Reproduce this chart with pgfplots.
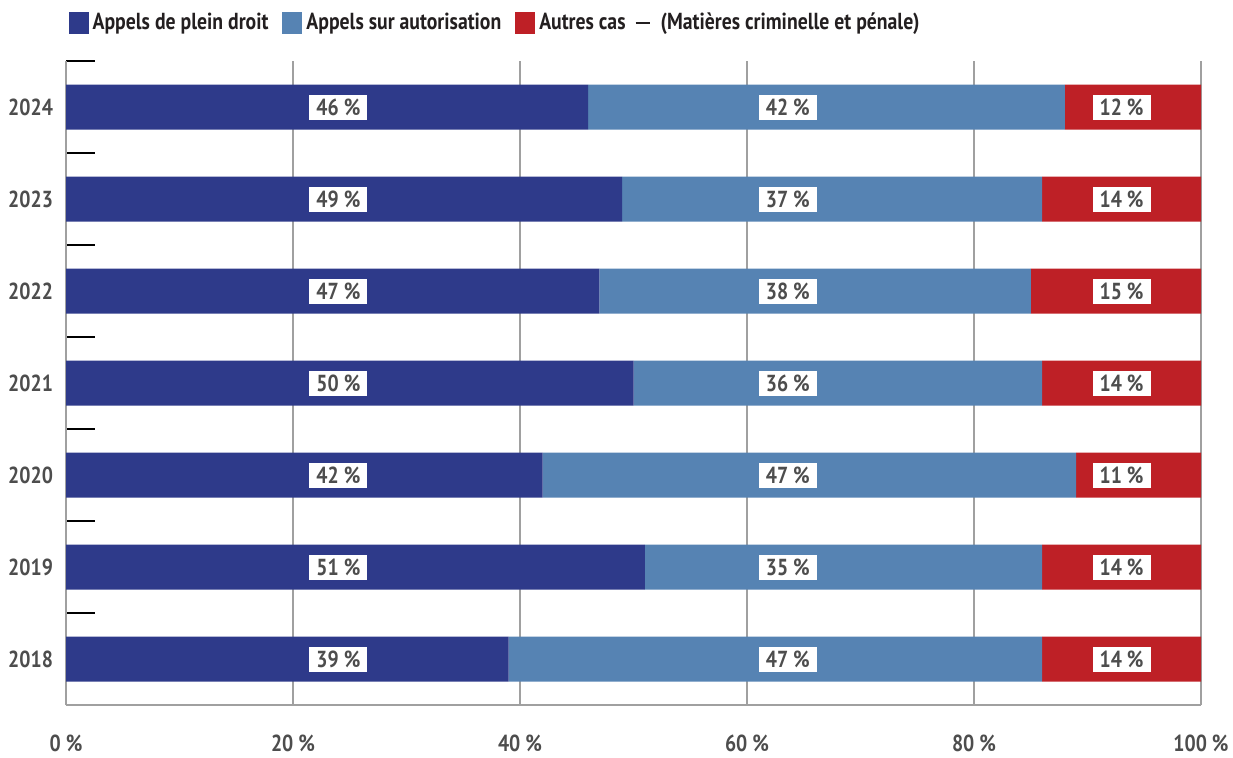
\documentclass[border=0pt]{standalone}
\usepackage{pgfplots}
\pgfplotsset{compat=1.18}
\usepackage{fontspec}
\setmainfont{PT Sans}[FakeStretch=0.85]
\definecolor{dblue}{HTML}{2E3A8A}
\definecolor{lblue}{HTML}{5683B3}
\definecolor{cred}{HTML}{BE2026}
\definecolor{txt}{HTML}{4D4D4D}
\definecolor{legtxt}{HTML}{231F20}
\definecolor{ax}{HTML}{A0A0A0}

\begin{document}
\begin{tikzpicture}[font=\fontsize{11.6}{13}\selectfont\bfseries]
\path[use as bounding box] (-33pt,-26pt) rectangle (583.5pt,352.5pt);
\begin{axis}[
    scale only axis, width=567.5pt, height=322pt,
    xbar stacked, bar width=22.5pt,
    xmin=0, xmax=100, ymin=-0.5, ymax=6.5,
    axis x line*=bottom, axis y line*=left,
    axis line style={ax, line width=0.7pt},
    /pgf/number format/assume math mode=true,
    xtick={0,20,...,100},
    xticklabel={\pgfmathprintnumber{\tick} \%},
    xmajorgrids, grid style={ax, line width=0.7pt},
    major tick length=0pt,
    xticklabel style={yshift=-11.5pt, text=txt},
    ytick={0,1,2,3,4,5,6},
    yticklabels={2018,2019,2020,2021,2022,2023,2024},
    yticklabel style={text=txt, xshift=-3pt},
    minor ytick={-0.5,0.5,...,6.5}, minor tick length=14.5pt,
    tick align=inside, ytick pos=left,
    minor tick style={black, line width=0.6pt},
    legend image code/.code={\fill[#1] (0pt,-5.5pt) rectangle (10pt,5.5pt);},
    legend columns=-1,
    legend style={at={(0.002,1.059)}, anchor=west, draw=none, fill=none,
        inner sep=0pt, text=legtxt,
        /tikz/every even column/.append style={column sep=5pt}},
    legend cell align=left,
]
\addplot[fill=dblue, draw=none] coordinates {(39,0) (51,1) (42,2) (50,3) (47,4) (49,5) (46,6)};
\addplot[fill=lblue, draw=none] coordinates {(47,0) (35,1) (47,2) (36,3) (38,4) (37,5) (42,6)};
\addplot[fill=cred, draw=none] coordinates {(14,0) (14,1) (11,2) (14,3) (15,4) (14,5) (12,6)};
\legend{Appels de plein droit, Appels sur autorisation, Autres cas\hspace{5pt}\rule[3pt]{7pt}{1pt}\hspace{5.5pt}(Matières criminelle et pénale)}
\end{axis}
\begin{axis}[
    scale only axis, width=567.5pt, height=322pt,
    xmin=0, xmax=100, ymin=-0.5, ymax=6.5,
    hide axis,
    nodes near coords, point meta=explicit symbolic,
    every node near coord/.append style={anchor=center, fill=white, text=txt,
        inner sep=0pt, minimum width=29pt, minimum height=12.5pt},
]
\addplot[draw=none, mark=none] coordinates {(24,0) [39 \%] (24,1) [51 \%] (24,2) [42 \%] (24,3) [50 \%] (24,4) [47 \%] (24,5) [49 \%] (24,6) [46 \%]};
\addplot[draw=none, mark=none] coordinates {(63.6,0) [47 \%] (63.6,1) [35 \%] (63.6,2) [47 \%] (63.6,3) [36 \%] (63.6,4) [38 \%] (63.6,5) [37 \%] (63.6,6) [42 \%]};
\addplot[draw=none, mark=none] coordinates {(93,0) [14 \%] (93,1) [14 \%] (93,2) [11 \%] (93,3) [14 \%] (93,4) [15 \%] (93,5) [14 \%] (93,6) [12 \%]};
\end{axis}
\end{tikzpicture}
\end{document}
